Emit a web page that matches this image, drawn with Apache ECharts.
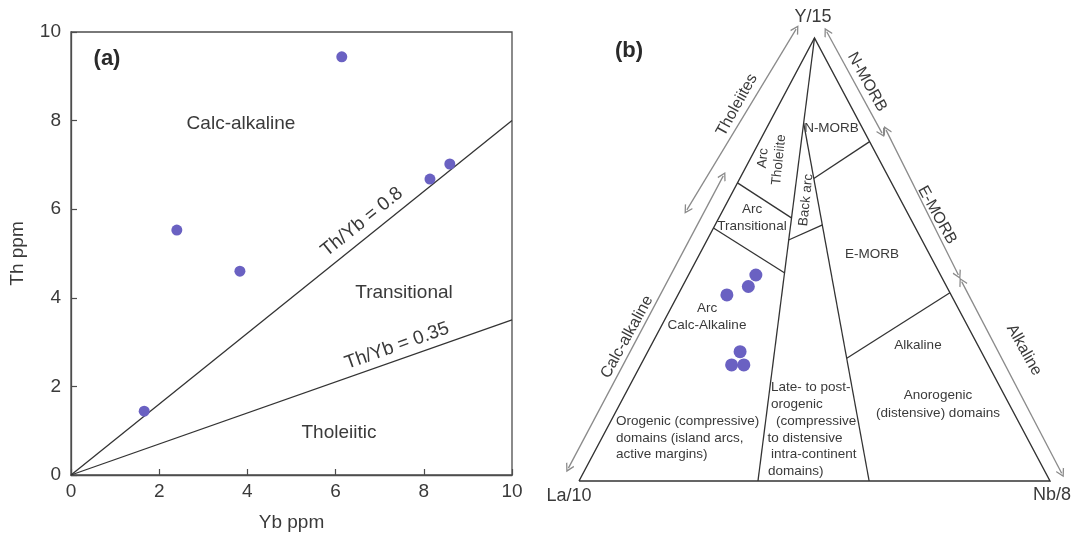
<!DOCTYPE html>
<html>
<head>
<meta charset="utf-8">
<script src="https://cdn.jsdelivr.net/npm/echarts@6/dist/echarts.min.js"></script>
<style>
  html, body { margin: 0; padding: 0; background: #fff; }
  #chart { width: 1077px; height: 537px; }
</style>
</head>
<body>
<div id="chart"></div>
<script>
// ---------- (a) Th vs Yb discrimination ----------
const ybPpm = [1.66, 2.40, 3.83, 6.14, 8.14, 8.59];
const thPpm = [1.44, 5.53, 4.60, 9.44, 6.68, 7.02];
const thYbRatios = [0.8, 0.35];
const ybRange = [0, 10];
const thRange = [0, 10];
const tickStep = 2;

// ---------- (b) La/10 - Y/15 - Nb/8 ternary ----------
// compositions in % : [La/10, Y/15, Nb/8]
const sampleLa = [47.6, 42.1, 39.2, 51.2, 54.5, 51.9];
const sampleY  = [42.0, 43.9, 46.5, 29.2, 26.2, 26.2];
const sampleNb = [10.4, 14.0, 14.3, 19.6, 19.3, 21.9];

const apexLa = [100, 0, 0];
const apexY  = [0, 100, 0];
const apexNb = [0, 0, 100];

// field boundaries (end compositions of each segment)
const fieldBoundaries = [
  [[0, 100, 0], [62, 0, 38]],            // orogenic | late- to post-orogenic
  [[11.9, 80.8, 7.3], [38.4, 0, 61.6]],  // late-orogenic | anorogenic
  [[32.7, 67.3, 0], [25.2, 59.4, 15.4]], // arc tholeiite | arc transitional
  [[42.9, 57.1, 0], [32.9, 47.0, 20.1]], // arc transitional | arc calc-alkaline
  [[28.3, 54.4, 17.3], [19.4, 57.8, 22.8]], // base of back arc
  [[16.0, 68.3, 15.7], [0, 76.6, 23.4]], // N-MORB | E-MORB
  [[29.3, 27.7, 43.0], [0, 42.5, 57.5]]  // E-MORB | alkaline
];

// affinity ranges drawn beside the triangle sides
const affinityArrows = [
  [[2.9, 102.0, -4.9], [46.5, 61.2, -7.7]],    // Tholeiites
  [[34.9, 68.8, -3.8], [100.8, 2.9, -3.7]],    // Calc-alkaline
  [[-3.3, 101.4, 1.9], [-3.6, 78.6, 25.1]],    // N-MORB
  [[-4.8, 79.2, 25.6], [-3.8, 46.5, 57.3]],    // E-MORB
  [[-3.75, 45.0, 58.75], [-3.35, 1.74, 101.6]] // Alkaline
];

// ternary composition -> normalised triangle coordinates
function toXY(c) {
  const s = c[0] + c[1] + c[2];
  return [(c[2] + c[1] / 2) / s, c[1] / s];
}

const FONT = "'Liberation Sans', Arial, Helvetica, sans-serif";
const INK = '#3a3a3a';
const FRAME = '#4d4d4d';
const DOT = '#6a61c2';
const CHEVRON = 'path://M5,0 L10,7.6 L9,8.6 L5,2.5 L1,8.6 L0,7.6 Z';

const chart = echarts.init(document.getElementById('chart'), null, { renderer: 'canvas', width: 1077, height: 537 });

function txt(text, x, y, size, opts) {
  opts = opts || {};
  return {
    type: 'text', x: x, y: y,
    rotation: (opts.rot || 0) * Math.PI / 180,
    silent: true, z: 10,
    style: {
      text: text,
      fill: opts.color || INK,
      fontFamily: FONT,
      fontSize: size,
      fontWeight: opts.bold ? 'bold' : 'normal',
      align: opts.align || 'center',
      verticalAlign: 'middle',
      lineHeight: opts.lh || Math.round(size * 1.25)
    }
  };
}

const labels = [
  // panel (a)
  txt('(a)', 107, 59, 22, { bold: true, color: '#2a2a2a' }),
  txt('Calc-alkaline', 241, 124, 19),
  txt('Transitional', 404, 293, 19),
  txt('Tholeiitic', 339, 433, 19),
  txt('Th/Yb = 0.8', 362, 222, 19, { rot: 38.8 }),
  txt('Th/Yb = 0.35', 397, 346, 19, { rot: 19.4 }),
  // panel (b)
  txt('(b)', 629, 51, 22, { bold: true, color: '#2a2a2a' }),
  txt('Y/15', 813, 17, 18),
  txt('La/10', 569, 496, 18),
  txt('Nb/8', 1052, 495, 18),
  txt('Tholeiites', 737, 105, 16, { rot: 61 }),
  txt('Calc-alkaline', 627, 337, 16, { rot: 61 }),
  txt('N-MORB', 867, 82, 16, { rot: -61 }),
  txt('E-MORB', 937, 215, 16, { rot: -61 }),
  txt('Alkaline', 1024, 350, 16, { rot: -61 }),
  txt('Arc\nTholeiite', 771, 159, 13.5, { rot: 84, lh: 16 }),
  txt('Back arc', 806, 200, 13.5, { rot: 84 }),
  txt('N-MORB', 831.5, 128.5, 13.5),
  txt('Arc\nTransitional', 752, 218, 13.5, { lh: 16.5 }),
  txt('E-MORB', 872, 254, 13.5),
  txt('Arc\nCalc-Alkaline', 707, 317, 13.5, { lh: 17 }),
  txt('Alkaline', 918, 345, 13.5),
  txt('Anorogenic\n(distensive) domains', 938, 404, 13.5, { lh: 18 }),
  txt('Orogenic (compressive)', 616, 421, 13.5, { align: 'left' }),
  txt('domains (island arcs,', 616, 438, 13.5, { align: 'left' }),
  txt('active margins)', 616, 454.5, 13.5, { align: 'left' }),
  txt('Late- to post-', 771, 387, 13.5, { align: 'left' }),
  txt('orogenic', 771, 404, 13.5, { align: 'left' }),
  txt('(compressive', 776, 421.5, 13.5, { align: 'left' }),
  txt('to distensive', 767.5, 438.5, 13.5, { align: 'left' }),
  txt('intra-continent', 771, 454.5, 13.5, { align: 'left' }),
  txt('domains)', 768, 471, 13.5, { align: 'left' })
];

const option = {
  animation: false,
  backgroundColor: '#ffffff',
  textStyle: { fontFamily: FONT },
  grid: [
    { left: 71, top: 32, width: 441, height: 443, show: true, borderColor: FRAME, borderWidth: 1.3, containLabel: false, outerBoundsMode: 'none' },
    { left: 531.9, top: 11.42, width: 565.2, height: 496.16, containLabel: false, outerBoundsMode: 'none' }
  ],
  xAxis: [
    {
      gridIndex: 0, type: 'value', min: ybRange[0], max: ybRange[1], interval: tickStep,
      name: 'Yb ppm', nameLocation: 'middle', nameGap: 38,
      nameTextStyle: { fontSize: 19, color: INK, fontFamily: FONT },
      axisLine: { onZero: false, lineStyle: { color: FRAME, width: 1.3 } },
      axisTick: { inside: true, length: 6, lineStyle: { color: FRAME, width: 1.2 } },
      axisLabel: { fontSize: 19, color: INK, margin: 7, fontFamily: FONT },
      splitLine: { show: false }
    },
    { gridIndex: 1, type: 'value', min: -0.1, max: 1.1, show: false, splitLine: { show: false } }
  ],
  yAxis: [
    {
      gridIndex: 0, type: 'value', min: thRange[0], max: thRange[1], interval: tickStep,
      name: 'Th ppm', nameLocation: 'middle', nameGap: 44, nameRotate: 90,
      nameTextStyle: { fontSize: 19, color: INK, fontFamily: FONT },
      axisLine: { onZero: false, lineStyle: { color: FRAME, width: 1.3 } },
      axisTick: { inside: true, length: 6, lineStyle: { color: FRAME, width: 1.2 } },
      axisLabel: { fontSize: 19, color: INK, margin: 10, fontFamily: FONT },
      splitLine: { show: false }
    },
    { gridIndex: 1, type: 'value', min: -0.06, max: 1.06, show: false, splitLine: { show: false } }
  ],
  series: [
    // (a) Th/Yb reference lines through the origin
    ...thYbRatios.map(r => ({
      type: 'line', xAxisIndex: 0, yAxisIndex: 0, silent: true, symbol: 'none', z: 3,
      lineStyle: { color: '#333', width: 1.3 },
      data: [[ybRange[0], ybRange[0] * r], [ybRange[1], ybRange[1] * r]]
    })),
    {
      type: 'scatter', xAxisIndex: 0, yAxisIndex: 0, symbolSize: 11, z: 5,
      itemStyle: { color: DOT, opacity: 1 },
      data: ybPpm.map((v, i) => [v, thPpm[i]])
    },
    // (b) triangle frame
    {
      type: 'lines', coordinateSystem: 'cartesian2d', xAxisIndex: 1, yAxisIndex: 1, silent: true, z: 3,
      polyline: true,
      lineStyle: { color: '#333', width: 1.4, opacity: 1, curveness: 0 },
      data: [{ coords: [apexLa, apexY, apexNb, apexLa].map(toXY) }]
    },
    // (b) field boundaries
    {
      type: 'lines', coordinateSystem: 'cartesian2d', xAxisIndex: 1, yAxisIndex: 1, silent: true, z: 3,
      lineStyle: { color: '#333', width: 1.3, opacity: 1, curveness: 0 },
      data: fieldBoundaries.map(seg => ({ coords: seg.map(toXY) }))
    },
    // (b) affinity arrows
    {
      type: 'lines', coordinateSystem: 'cartesian2d', xAxisIndex: 1, yAxisIndex: 1, silent: true, z: 2,
      symbol: [CHEVRON, CHEVRON], symbolSize: 9,
      lineStyle: { color: '#8a8a8a', width: 1.3, opacity: 1, curveness: 0 },
      data: affinityArrows.map(seg => ({ coords: seg.map(toXY) }))
    },
    // (b) samples
    {
      type: 'scatter', xAxisIndex: 1, yAxisIndex: 1, symbolSize: 13, z: 5,
      itemStyle: { color: DOT, opacity: 1 },
      data: sampleLa.map((la, i) => toXY([la, sampleY[i], sampleNb[i]]))
    }
  ],
  graphic: labels
};

chart.setOption(option);
</script>
</body>
</html>
